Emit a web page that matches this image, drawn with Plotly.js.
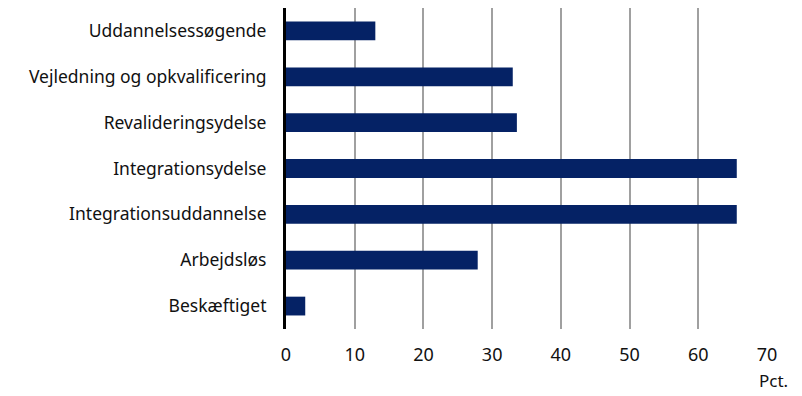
<!DOCTYPE html>
<html><head><meta charset="utf-8">
<script src="https://cdn.plot.ly/plotly-3.0.1.min.js"></script>
<style>html,body{margin:0;padding:0;background:#fff}</style>
</head><body>
<div id="chart" style="width:802px;height:396px"></div>
<script>
const categories = ["Uddannelsessøgende","Vejledning og opkvalificering","Revalideringsydelse","Integrationsydelse","Integrationsuddannelse","Arbejdsløs","Beskæftiget"];
const values = [13.0, 33.0, 33.6, 65.6, 65.6, 27.9, 2.8];
const xTicks = [0,10,20,30,40,50,60,70];

const fontFam = "'Noto Sans', 'Open Sans', sans-serif";
Plotly.newPlot('chart', [{
  type: 'bar', orientation: 'h',
  y: categories, x: values,
  marker: {color: '#052265'},
  width: 0.41,
  hoverinfo: 'skip'
}], {
  width: 802, height: 396,
  margin: {l: 286, r: 35, t: 7.5, b: 66.5},
  paper_bgcolor: '#fff', plot_bgcolor: '#fff',
  font: {family: fontFam, size: 16, color: '#111'},
  showlegend: false,
  bargap: 0.59,
  xaxis: {
    range: [0, 70], tickvals: xTicks, ticktext: xTicks.map(String),
    showgrid: true, gridcolor: '#a0a0a0', gridwidth: 2,
    zeroline: false, showline: false, ticks: '',
    ticklabelstandoff: 13,
    tickfont: {family: fontFam, size: 18, color: '#111'},
    fixedrange: true
  },
  yaxis: {
    autorange: 'reversed', type: 'category',
    showgrid: false, zeroline: false,
    showline: true, linecolor: '#000', linewidth: 3,
    ticks: '', ticklabelstandoff: 13,
    tickfont: {family: fontFam, size: 17.5, color: '#111'},
    fixedrange: true
  },
  annotations: [{
    text: 'Pct.', xref: 'x', yref: 'paper', x: 70, y: 0,
    xanchor: 'left', yanchor: 'top', xshift: -10, yshift: -38,
    showarrow: false, font: {family: fontFam, size: 17, color: '#111'}
  }]
}, {displayModeBar: false, staticPlot: true});
</script>
</body></html>
